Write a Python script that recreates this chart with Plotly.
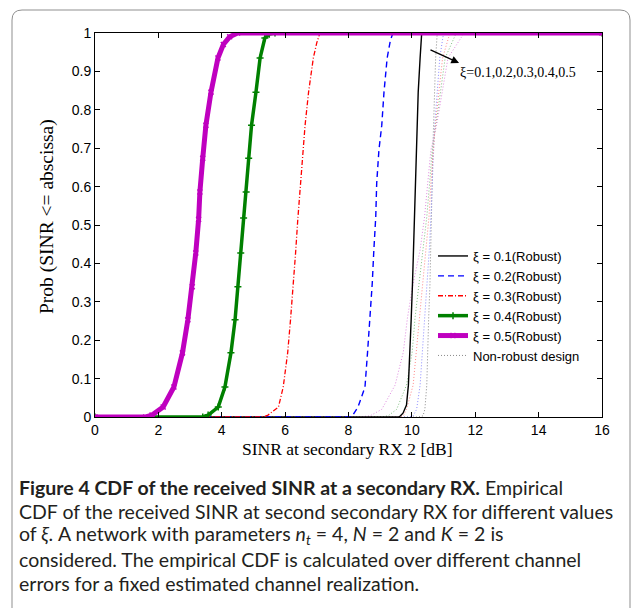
import plotly.graph_objects as go

# ---------------- data ----------------
x_r05 = [0, 1.6, 1.8, 2.15, 2.49, 2.76, 2.93, 3.07, 3.18, 3.27, 3.31, 3.40, 3.50, 3.66, 3.88, 4.05, 4.25, 4.5, 16]
y_r05 = [0, 0, 0.005, 0.026, 0.078, 0.167, 0.253, 0.339, 0.427, 0.515, 0.586, 0.674, 0.76, 0.846, 0.935, 0.97, 0.99, 1, 1]

x_r04 = [0, 3.4, 3.57, 3.89, 4.10, 4.29, 4.42, 4.51, 4.60, 4.69, 4.77, 4.85, 4.94, 5.08, 5.21, 5.36, 5.5, 5.68, 16]
y_r04 = [0, 0, 0.005, 0.026, 0.078, 0.167, 0.253, 0.339, 0.427, 0.518, 0.586, 0.674, 0.76, 0.846, 0.935, 0.987, 0.997, 1, 1]

x_r03 = [0, 5.3, 5.46, 5.79, 5.94, 6.08, 6.17, 6.26, 6.33, 6.40, 6.46, 6.54, 6.63, 6.74, 6.89, 7.0, 7.10, 16]
y_r03 = [0, 0, 0.005, 0.026, 0.078, 0.167, 0.253, 0.339, 0.427, 0.515, 0.586, 0.674, 0.76, 0.846, 0.935, 0.975, 1, 1]

x_r02 = [0, 8.1, 8.3, 8.52, 8.6, 8.68, 8.75, 8.80, 8.86, 8.89, 8.96, 9.05, 9.12, 9.22, 9.32, 9.40, 16]
y_r02 = [0, 0, 0.026, 0.078, 0.167, 0.253, 0.349, 0.435, 0.521, 0.609, 0.695, 0.76, 0.846, 0.935, 0.98, 1, 1]

x_r01 = [0, 9.6, 9.72, 9.83, 9.89, 9.94, 9.98, 10.02, 10.08, 10.13, 10.17, 10.20, 10.26, 10.31, 16]
y_r01 = [0, 0, 0.01, 0.031, 0.083, 0.169, 0.258, 0.349, 0.521, 0.695, 0.76, 0.846, 0.935, 1, 1]

y_nr = [0, 0, 0.003, 0.02, 0.083, 0.169, 0.258, 0.344, 0.435, 0.521, 0.609, 0.695, 0.76, 0.846, 0.935, 1, 1]
x_nr01 = [0, 10.2, 10.35, 10.41, 10.47, 10.49, 10.53, 10.57, 10.60, 10.62, 10.64, 10.66, 10.68, 10.72, 10.75, 10.8, 16]
x_nr02 = [0, 9.9, 10.04, 10.15, 10.26, 10.33, 10.41, 10.48, 10.55, 10.60, 10.64, 10.68, 10.72, 10.80, 10.88, 11.0, 16]
x_nr03 = [0, 9.55, 9.73, 9.83, 10.04, 10.14, 10.23, 10.35, 10.45, 10.54, 10.60, 10.67, 10.74, 10.85, 10.97, 11.2, 16]
x_nr04 = [0, 9.0, 9.25, 9.52, 9.83, 10.01, 10.10, 10.22, 10.36, 10.47, 10.56, 10.64, 10.76, 10.90, 11.05, 11.4, 16]
x_nr05 = [0, 8.3, 8.68, 9.05, 9.47, 9.73, 9.86, 10.03, 10.26, 10.40, 10.50, 10.60, 10.78, 10.95, 11.14, 11.65, 16]

legend_names = ["ξ = 0.1(Robust)", "ξ = 0.2(Robust)", "ξ = 0.3(Robust)",
                "ξ = 0.4(Robust)", "ξ = 0.5(Robust)", "Non-robust design"]
x_ticks = [0, 2, 4, 6, 8, 10, 12, 14, 16]
y_ticks = [0, 0.1, 0.2, 0.3, 0.4, 0.5, 0.6, 0.7, 0.8, 0.9, 1]
y_tick_text = ["0", "0.1", "0.2", "0.3", "0.4", "0.5", "0.6", "0.7", "0.8", "0.9", "1"]

# ---------------- layout geometry ----------------
W, H = 637, 608
L, R, T, B = 95, 35, 33, 191
PW, PH = W - L - R, H - T - B


def px(xp):
    return (xp - L) / PW


def py(yp):
    return (H - B - yp) / PH


fig = go.Figure()

nr_colors = ["#8a8a8a", "#8c8cff", "#ff8a8a", "#7fc07f", "#e08ae0"]
nr_xs = [x_nr01, x_nr02, x_nr03, x_nr04, x_nr05]
for i, (xs, c) in enumerate(zip(nr_xs, nr_colors)):
    fig.add_trace(go.Scatter(x=xs, y=y_nr, mode="lines",
                             line=dict(color=c, width=1, dash="1px,2px"),
                             name=legend_names[5], showlegend=(i == 0),
                             legendrank=1006))

fig.add_trace(go.Scatter(x=x_r01, y=y_r01, mode="lines", name=legend_names[0],
                         line=dict(color="black", width=1.4), legendrank=1001))
fig.add_trace(go.Scatter(x=x_r02, y=y_r02, mode="lines", name=legend_names[1],
                         line=dict(color="#0000ff", width=1.4, dash="6px,4px"), legendrank=1002))
fig.add_trace(go.Scatter(x=x_r03, y=y_r03, mode="lines", name=legend_names[2],
                         line=dict(color="#ff0000", width=1.3, dash="5px,2px,1px,2px"), legendrank=1003))
fig.add_trace(go.Scatter(x=x_r04, y=y_r04, mode="lines+markers", name=legend_names[3],
                         line=dict(color="#008000", width=3.5),
                         marker=dict(symbol="cross-thin", size=5, color="#008000",
                                     line=dict(color="#008000", width=1.5)),
                         legendrank=1004))
fig.add_trace(go.Scatter(x=x_r05, y=y_r05, mode="lines+markers", name=legend_names[4],
                         line=dict(color="#bf00bf", width=5),
                         marker=dict(symbol="x-thin", size=5, color="#bf00bf",
                                     line=dict(color="#bf00bf", width=1.5)),
                         legendrank=1005))

axis_common = dict(showline=True, linecolor="black", linewidth=1, mirror="ticks",
                   ticks="inside", ticklen=5, tickcolor="black", showgrid=False,
                   zeroline=False,
                   tickfont=dict(family="Liberation Sans, Arial, sans-serif", size=14, color="black"))

fig.update_xaxes(range=[0, 16], tickvals=x_ticks, **axis_common)
fig.update_yaxes(range=[0, 1], tickvals=y_ticks, ticktext=y_tick_text, **axis_common)

serif = "Liberation Serif, Times New Roman, serif"
annotations = [
    dict(x=11.49, y=0.922, ax=10.54, ay=0.958, xref="x", yref="y", axref="x", ayref="y",
         text="", showarrow=True, arrowhead=2, arrowsize=1.2, arrowwidth=1.3, arrowcolor="black"),
    dict(x=11.45, y=0.896, xref="x", yref="y", text="ξ=0.1,0.2,0.3,0.4,0.5",
         showarrow=False, xanchor="left", yanchor="middle",
         font=dict(family=serif, size=14, color="black")),
    dict(x=px(347), y=py(449), xref="paper", yref="paper", text="SINR at secondary RX 2 [dB]",
         showarrow=False, xanchor="center", yanchor="middle",
         font=dict(family=serif, size=17.5, color="black")),
    dict(x=px(47), y=py(217), xref="paper", yref="paper", text="Prob (SINR <= abscissa)",
         showarrow=False, xanchor="center", yanchor="middle", textangle=-90,
         font=dict(family=serif, size=19.5, color="black")),
]

cap_font = dict(family="Lato, Open Sans, sans-serif", size=19.5, color="#231f20")
caption_lines = [
    "<b>Figure 4 CDF of the received SINR at a secondary RX.</b> Empirical",
    "CDF of the received SINR at second secondary RX for different values",
    "of <i>ξ</i>. A network with parameters <i>n<sub>t</sub></i> = 4, <i>N</i> = 2 and <i>K</i> = 2 is",
    "considered. The empirical CDF is calculated over different channel",
    "errors for a fixed estimated channel realization.",
]
for i, line in enumerate(caption_lines):
    annotations.append(dict(x=px(17), y=py(487 + 24 * i), xref="paper", yref="paper",
                            text=line, showarrow=False, xanchor="left", yanchor="middle",
                            font=cap_font))

# rounded outer frame (open at the bottom)
x0, x1, yt, yb = px(12), px(630), py(10), py(625)
rx, ry = 10 / PW, 10 / PH
frame_path = (f"M {x0},{yb} L {x0},{yt - ry} Q {x0},{yt} {x0 + rx},{yt} "
              f"L {x1 - rx},{yt} Q {x1},{yt} {x1},{yt - ry} L {x1},{yb}")

fig.update_layout(
    width=W, height=H,
    margin=dict(l=L, r=R, t=T, b=B),
    paper_bgcolor="white", plot_bgcolor="white",
    annotations=annotations,
    shapes=[dict(type="path", path=frame_path, xref="paper", yref="paper",
                 line=dict(color="#8f8f8f", width=1))],
    legend=dict(x=px(433), y=py(241), xanchor="left", yanchor="top",
                bgcolor="rgba(255,255,255,0)", borderwidth=0,
                font=dict(family="Liberation Sans, Arial, sans-serif", size=13, color="black"),
                tracegroupgap=0),
    showlegend=True,
)

fig.write_html("out.html", config={"displayModeBar": False},
               post_script="document.body.style.margin='0';")
